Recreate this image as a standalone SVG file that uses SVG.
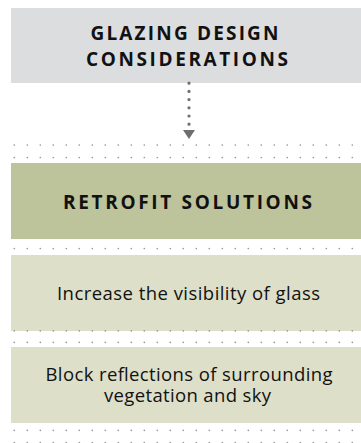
<svg xmlns="http://www.w3.org/2000/svg" width="361" height="443" viewBox="0 0 361 443">
<style>
.title{font-family:"Open Sans","Liberation Sans",sans-serif;font-weight:700;font-size:19px;fill:#111;}
.body{font-family:"Open Sans","Liberation Sans",sans-serif;font-weight:400;font-size:18.5px;fill:#111;}
.dots{stroke:#9a9a9a;stroke-width:1.7;stroke-linecap:round;stroke-dasharray:0 13;fill:none;}
.conn{stroke:#6d6e70;stroke-width:3.2;stroke-linecap:round;stroke-dasharray:0 8.2;fill:none;}
</style>
<defs>
<marker id="arrow" markerUnits="userSpaceOnUse" viewBox="0 0 9 12" refX="0" refY="6" markerWidth="9" markerHeight="12" orient="auto">
<path d="M0,0 L9,6 L0,12 Z" fill="#6d6e70"/>
</marker>
</defs>
<rect width="361" height="443" fill="#ffffff"/>
<g id="separators">
<path class="dots" d="M14.3,145 H361"/>
<path class="dots" d="M14.3,157.5 H361"/>
<path class="dots" d="M14.3,248.5 H361"/>
<path class="dots" d="M14.3,342.3 H361"/>
<path class="dots" d="M14.3,430.3 H361"/>
<path class="dots" d="M14.3,442.6 H361"/>
</g>
<g id="node-glazing">
<rect x="11" y="8" width="350" height="75" fill="#dcdddf"/>
<text class="title"><tspan x="90.5" y="39.5" textLength="188" lengthAdjust="spacing">GLAZING DESIGN</tspan><tspan x="86" y="66" textLength="202" lengthAdjust="spacing">CONSIDERATIONS</tspan></text>
</g>
<g id="node-retrofit">
<rect x="11" y="163" width="350" height="76" fill="#bdc39a"/>
<text class="title" x="63" y="209" textLength="249" lengthAdjust="spacing">RETROFIT SOLUTIONS</text>
</g>
<g id="node-visibility">
<rect x="11" y="255" width="350" height="76" fill="#dddfc9"/>
<path class="dots" d="M14.3,330.8 H361"/>
<text class="body" x="57" y="299.5" textLength="263" lengthAdjust="spacing">Increase the visibility of glass</text>
</g>
<g id="node-reflections">
<rect x="11" y="347" width="350" height="76" fill="#dddfc9"/>
<text class="body"><tspan x="45.5" y="380.5" textLength="287" lengthAdjust="spacing">Block reflections of surrounding</tspan><tspan x="104" y="401.5" textLength="167" lengthAdjust="spacing">vegetation and sky</tspan></text>
</g>
<g id="connectors">
<path class="conn" d="M189,83.2 V130" marker-end="url(#arrow)"/>
</g>
</svg>
